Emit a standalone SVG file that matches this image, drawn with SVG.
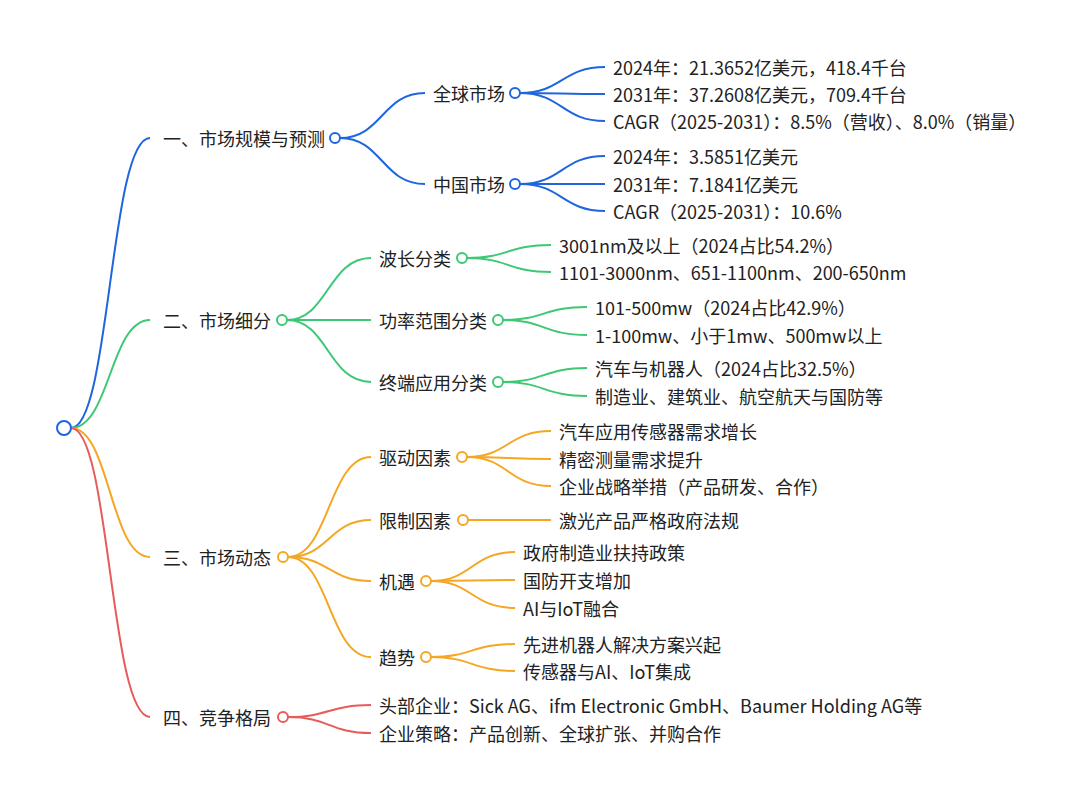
<svg xmlns="http://www.w3.org/2000/svg" width="1080" height="797" viewBox="0 0 1080 797">
<style>
text{font-family:"Noto Sans CJK SC","Noto Sans",sans-serif;font-size:18px;fill:#222;dominant-baseline:central}
.l{fill:none;stroke-width:2}
.b{stroke:#1e66e0}.g{stroke:#3cc874}.o{stroke:#f5a623}.r{stroke:#e85b5b}
circle{fill:#fff;stroke-width:2}
</style>
<rect width="1080" height="797" fill="#fff"/>
<g id="connectors">
<path class="l b" d="M71 428C110 428 110 138 150 138"/>
<path class="l g" d="M71 428C110 428 110 320 150 320"/>
<path class="l o" d="M71 428C110 428 110 557 150 557"/>
<path class="l r" d="M71 428C110 428 110 717 150 717"/>
<path class="l b" d="M340 138C382 138 382 93 425 93"/>
<path class="l b" d="M340 138C382 138 382 184 425 184"/>
<path class="l b" d="M520 93C562 93 562 67 605 67"/>
<path class="l b" d="M520 93C562 93 562 94 605 94"/>
<path class="l b" d="M520 93C562 93 562 121 605 121"/>
<path class="l b" d="M520 184C562 184 562 156 605 156"/>
<path class="l b" d="M520 184C562 184 562 184 605 184"/>
<path class="l b" d="M520 184C562 184 562 211 605 211"/>
<path class="l g" d="M287 320C328 320 328 258 371 258"/>
<path class="l g" d="M287 320C328 320 328 320 371 320"/>
<path class="l g" d="M287 320C328 320 328 382 371 382"/>
<path class="l g" d="M467 258C508 258 508 245 551 245"/>
<path class="l g" d="M467 258C508 258 508 272 551 272"/>
<path class="l g" d="M503 320C544 320 544 307 587 307"/>
<path class="l g" d="M503 320C544 320 544 335 587 335"/>
<path class="l g" d="M503 382C544 382 544 368 587 368"/>
<path class="l g" d="M503 382C544 382 544 396 587 396"/>
<path class="l o" d="M288 557C329 557 329 457 371 457"/>
<path class="l o" d="M288 557C329 557 329 520 371 520"/>
<path class="l o" d="M288 557C329 557 329 581 371 581"/>
<path class="l o" d="M288 557C329 557 329 657 371 657"/>
<path class="l o" d="M467 457C508 457 508 431 551 431"/>
<path class="l o" d="M467 457C508 457 508 459 551 459"/>
<path class="l o" d="M467 457C508 457 508 486 551 486"/>
<path class="l o" d="M468 520L551 520"/>
<path class="l o" d="M431 581C472 581 472 552 515 552"/>
<path class="l o" d="M431 581C472 581 472 580 515 580"/>
<path class="l o" d="M431 581C472 581 472 608 515 608"/>
<path class="l o" d="M431 657C472 657 472 644 515 644"/>
<path class="l o" d="M431 657C472 657 472 671 515 671"/>
<path class="l r" d="M288 717C329 717 329 705 371 705"/>
<path class="l r" d="M288 717C329 717 329 733 371 733"/>
</g>
<g id="root"><circle cx="64" cy="428" r="7" stroke="#1e66e0"/></g>
<g id="n1"><text x="163" y="138">一、市场规模与预测</text><circle cx="335" cy="138" r="5" stroke="#1e66e0"/></g>
<g id="n1a"><text x="433" y="93">全球市场</text><circle cx="515" cy="93" r="5" stroke="#1e66e0"/></g>
<g id="n1a1"><text x="613" y="67">2024年：21.3652亿美元，418.4千台</text></g>
<g id="n1a2"><text x="613" y="94">2031年：37.2608亿美元，709.4千台</text></g>
<g id="n1a3"><text x="613" y="121">CAGR（2025-2031）：8.5%（营收）、8.0%（销量）</text></g>
<g id="n1b"><text x="433" y="184">中国市场</text><circle cx="515" cy="184" r="5" stroke="#1e66e0"/></g>
<g id="n1b1"><text x="613" y="156">2024年：3.5851亿美元</text></g>
<g id="n1b2"><text x="613" y="184">2031年：7.1841亿美元</text></g>
<g id="n1b3"><text x="613" y="211">CAGR（2025-2031）：10.6%</text></g>
<g id="n2"><text x="163" y="320">二、市场细分</text><circle cx="282" cy="320" r="5" stroke="#3cc874"/></g>
<g id="n2a"><text x="379" y="258">波长分类</text><circle cx="462" cy="258" r="5" stroke="#3cc874"/></g>
<g id="n2a1"><text x="559" y="245">3001nm及以上（2024占比54.2%）</text></g>
<g id="n2a2"><text x="559" y="272">1101-3000nm、651-1100nm、200-650nm</text></g>
<g id="n2b"><text x="379" y="320">功率范围分类</text><circle cx="498" cy="320" r="5" stroke="#3cc874"/></g>
<g id="n2b1"><text x="595" y="307">101-500mw（2024占比42.9%）</text></g>
<g id="n2b2"><text x="595" y="335">1-100mw、小于1mw、500mw以上</text></g>
<g id="n2c"><text x="379" y="382">终端应用分类</text><circle cx="498" cy="382" r="5" stroke="#3cc874"/></g>
<g id="n2c1"><text x="595" y="368">汽车与机器人（2024占比32.5%）</text></g>
<g id="n2c2"><text x="595" y="396">制造业、建筑业、航空航天与国防等</text></g>
<g id="n3"><text x="163" y="557">三、市场动态</text><circle cx="283" cy="557" r="5" stroke="#f5a623"/></g>
<g id="n3a"><text x="379" y="457">驱动因素</text><circle cx="462" cy="457" r="5" stroke="#f5a623"/></g>
<g id="n3a1"><text x="559" y="431">汽车应用传感器需求增长</text></g>
<g id="n3a2"><text x="559" y="459">精密测量需求提升</text></g>
<g id="n3a3"><text x="559" y="486">企业战略举措（产品研发、合作）</text></g>
<g id="n3b"><text x="379" y="520">限制因素</text><circle cx="463" cy="520" r="5" stroke="#f5a623"/></g>
<g id="n3b1"><text x="559" y="520">激光产品严格政府法规</text></g>
<g id="n3c"><text x="379" y="581">机遇</text><circle cx="426" cy="581" r="5" stroke="#f5a623"/></g>
<g id="n3c1"><text x="523" y="552">政府制造业扶持政策</text></g>
<g id="n3c2"><text x="523" y="580">国防开支增加</text></g>
<g id="n3c3"><text x="523" y="608">AI与IoT融合</text></g>
<g id="n3d"><text x="379" y="657">趋势</text><circle cx="426" cy="657" r="5" stroke="#f5a623"/></g>
<g id="n3d1"><text x="523" y="644">先进机器人解决方案兴起</text></g>
<g id="n3d2"><text x="523" y="671">传感器与AI、IoT集成</text></g>
<g id="n4"><text x="163" y="717">四、竞争格局</text><circle cx="283" cy="717" r="5" stroke="#e85b5b"/></g>
<g id="n4a"><text x="379" y="705">头部企业：Sick AG、ifm Electronic GmbH、Baumer Holding AG等</text></g>
<g id="n4b"><text x="379" y="733">企业策略：产品创新、全球扩张、并购合作</text></g>
</svg>
